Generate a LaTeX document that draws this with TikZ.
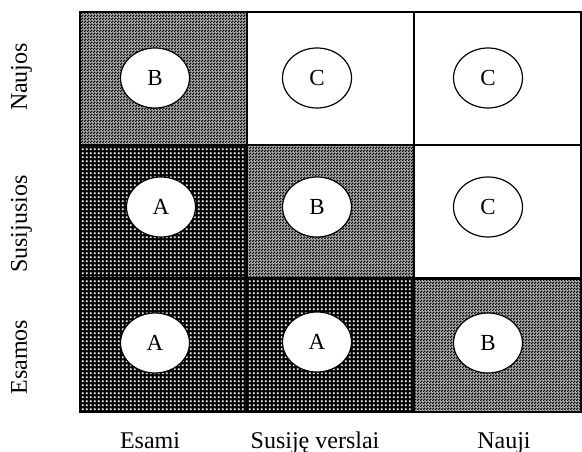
\documentclass[tikz,border=0pt]{standalone}
\usepackage{fontspec}
\setmainfont{Liberation Serif}
\usetikzlibrary{patterns,shapes.geometric}
\pgfdeclarepatternformonly{fincheck}{\pgfpointorigin}{\pgfqpoint{3pt}{3pt}}{\pgfqpoint{3pt}{3pt}}{%
  \pgfpathrectangle{\pgfpointorigin}{\pgfqpoint{1.7pt}{1.7pt}}%
  \pgfpathrectangle{\pgfqpoint{1.5pt}{1.5pt}}{\pgfqpoint{1.7pt}{1.7pt}}%
  \pgfusepath{fill}}
\pgfdeclarepatternformonly{whitedots}{\pgfpointorigin}{\pgfqpoint{3.7pt}{3.7pt}}{\pgfqpoint{3.7pt}{3.7pt}}{%
  \pgfpathrectangle{\pgfqpoint{0.9pt}{0.9pt}}{\pgfqpoint{1.9pt}{1.9pt}}%
  \pgfusepath{fill}}
\tikzset{
  cell/.style={minimum width=167pt, minimum height=133pt, inner sep=0pt, draw=black, line width=2pt},
  celldark/.style={cell, preaction={fill=black}, pattern=whitedots, pattern color=white},
  cellmed/.style={cell, preaction={fill=black!30}, pattern=fincheck, pattern color=black},
  cellwhite/.style={cell, fill=white},
  oval/.style={ellipse, draw=black, fill=white, line width=1.2pt, minimum width=69pt, minimum height=60pt, inner sep=0pt, font=\fontsize{23}{26}\selectfont},
  axlabel/.style={font=\fontsize{24}{27}\selectfont, anchor=base, inner sep=0pt}
}
\begin{document}
\begin{tikzpicture}[x=1pt,y=-1pt]
\useasboundingbox (0,0) rectangle (582,452);
% cells: rows 12-145-278-413, columns 80-247-413-581
\node[cellmed]   (c11) at (163.5,78.5) {};
\node[cellwhite] (c12) at (330,78.5) {};
\node[cellwhite] (c13) at (497,78.5) {};
\node[celldark]  (c21) at (163.5,211.5) {};
\node[cellmed]   (c22) at (330,211.5) {};
\node[cellwhite] (c23) at (497,211.5) {};
\node[celldark]  (c31) at (163.5,345.5) {};
\node[celldark]  (c32) at (330,345.5) {};
\node[cellmed]   (c33) at (497,345.5) {};
% ovals
\node[oval] (o11) at (155,78) {B};
\node[oval] (o12) at (317,78) {C};
\node[oval] (o13) at (488,78) {C};
\node[oval] (o21) at (161,207) {A};
\node[oval] (o22) at (317,207) {B};
\node[oval] (o23) at (488,207) {C};
\node[oval] (o31) at (155,343) {A};
\node[oval] (o32) at (317,342) {A};
\node[oval] (o33) at (488,343) {B};
% row labels
\node[axlabel, rotate=90] (r1) at (27,77) {Naujos};
\node[axlabel, rotate=90] (r2) at (27,224) {Susijusios};
\node[axlabel, rotate=90] (r3) at (27,357) {Esamos};
% column labels
\node[axlabel] (k1) at (150,448) {Esami};
\node[axlabel] (k2) at (315,448) {Susiję verslai};
\node[axlabel] (k3) at (504,448) {Nauji};
\end{tikzpicture}
\end{document}
